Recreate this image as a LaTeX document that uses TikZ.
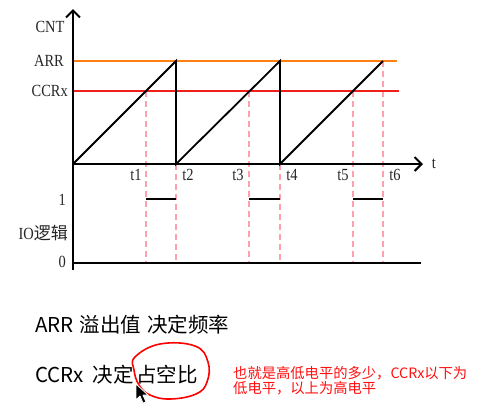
\documentclass[tikz,border=0pt]{standalone}
\usepackage{fontspec}
\setmainfont{Liberation Serif}
\newfontfamily\lblfont[FakeStretch=0.85]{Liberation Serif}
\newfontfamily\cjk{Noto Sans CJK SC}
\usetikzlibrary{arrows.meta}
\definecolor{arrorange}{RGB}{255,128,16}
\definecolor{ccrred}{RGB}{240,32,24}
\definecolor{guidepink}{RGB}{255,160,176}
\definecolor{notered}{RGB}{255,16,16}
\begin{document}
\begin{tikzpicture}[x=1pt,y=-1pt,
  axis/.style={line width=2pt, black},
  saw/.style={line width=1.8pt, black, line join=miter},
  arrline/.style={line width=1.5pt, draw=arrorange},
  ccrline/.style={line width=1.5pt, draw=ccrred},
  guide/.style={line width=1.2pt, draw=guidepink, dash pattern=on 6pt off 4pt},
  lbl/.style={font=\lblfont\fontsize{17}{17}\selectfont, inner sep=0pt, text=black!85},
  big/.style={font=\cjk\fontsize{20.5}{20.5}\selectfont, inner sep=0pt, anchor=west},
  note/.style={font=\cjk\fontsize{14.3}{15.5}\selectfont, text=notered, inner sep=0pt, align=left, anchor=north west},
  tip/.style={-{Straight Barb[length=7pt,width=14pt,line width=2pt]}}
]
\useasboundingbox[fill=white] (0,0) rectangle (480,408);

% key points
\coordinate (ytop) at (73,9);
\coordinate (ybot) at (73,270);
\coordinate (o) at (73,164);
\coordinate (tend) at (423,164);
\coordinate (a1) at (176,61);
\coordinate (b1) at (176,164);
\coordinate (a2) at (280,61);
\coordinate (b2) at (280,164);
\coordinate (a3) at (383,61);
\coordinate (arrL) at (73,61);
\coordinate (arrR) at (397,61);
\coordinate (ccrL) at (73,91);
\coordinate (ccrR) at (399,91);
\coordinate (c1) at (146,91);
\coordinate (c3) at (249,91);
\coordinate (c5) at (353,91);
\coordinate (g1) at (146,263);
\coordinate (g2) at (176,263);
\coordinate (g3) at (249,263);
\coordinate (g4) at (280,263);
\coordinate (g5) at (353,263);
\coordinate (g6) at (383,263);
\coordinate (h1a) at (146,199);
\coordinate (h1b) at (176,199);
\coordinate (h2a) at (249,199);
\coordinate (h2b) at (280,199);
\coordinate (h3a) at (353,199);
\coordinate (h3b) at (383,199);
\coordinate (zL) at (73,263);
\coordinate (zR) at (421,263);

% guide lines
\draw[guide] (c1) -- (g1);
\draw[guide] (b1) -- (g2);
\draw[guide] (c3) -- (g3);
\draw[guide] (b2) -- (g4);
\draw[guide] (c5) -- (g5);
\draw[guide] (a3) -- (g6);

% ARR and CCRx levels
\draw[arrline] (arrL) -- (arrR);
\draw[ccrline] (ccrL) -- (ccrR);

% sawtooth
\draw[saw] (o) -- (a1) -- (b1) -- (a2) -- (b2) -- (a3);

% axes
\draw[axis, tip] (ybot) -- (ytop);
\draw[axis, tip] (o) -- (tend);
\draw[axis] (zL) -- (zR);

% IO pulses
\draw[saw] (h1a) -- (h1b);
\draw[saw] (h2a) -- (h2b);
\draw[saw] (h3a) -- (h3b);

% labels
\node[lbl] (cnt) at (50,27) {CNT};
\node[lbl, anchor=east] (arr) at (64,61) {ARR};
\node[lbl, anchor=east] (ccr) at (68,91) {CCRx};
\node[lbl] (t) at (434,164) {t};
\node[lbl] (t1) at (136,175) {t1};
\node[lbl] (t2) at (188,175) {t2};
\node[lbl] (t3) at (238,175) {t3};
\node[lbl] (t4) at (292,175) {t4};
\node[lbl] (t5) at (343,175) {t5};
\node[lbl] (t6) at (395,175) {t6};
\node[lbl, anchor=east] (one) at (66,200) {1};
\node[lbl, anchor=east] (io) at (68,233) {IO{\cjk\fontsize{17}{17}\selectfont 逻辑}};
\node[lbl, anchor=east] (zero) at (66,262) {0};

% bottom text
\node[big] (freq) at (35,325) {ARR\hspace{6pt}溢出值\hspace{6pt}决定频率};
\node[big] (duty) at (35,375) {CCRx\hspace{9pt}决定\hspace{2.5pt}占空比};
\node[note] (expl) at (233,366) {也就是高低电平的多少，CCRx以下为\\低电平，以上为高电平};

% hand-drawn circle
\draw[line width=1.6pt, draw=red] plot[smooth cycle, tension=0.7] coordinates
  {(135,357) (160,344) (195,346) (208,362) (207,382) (196,394) (170,399) (150,395) (139,385) (134,370)};

% mouse cursor
\filldraw[fill=black, draw=white, line width=0.8pt, line join=round]
  (136,384) -- (136,400) -- (140,396) -- (143,403) -- (146,402) -- (143,395) -- (148,395) -- cycle;
\end{tikzpicture}
\end{document}
